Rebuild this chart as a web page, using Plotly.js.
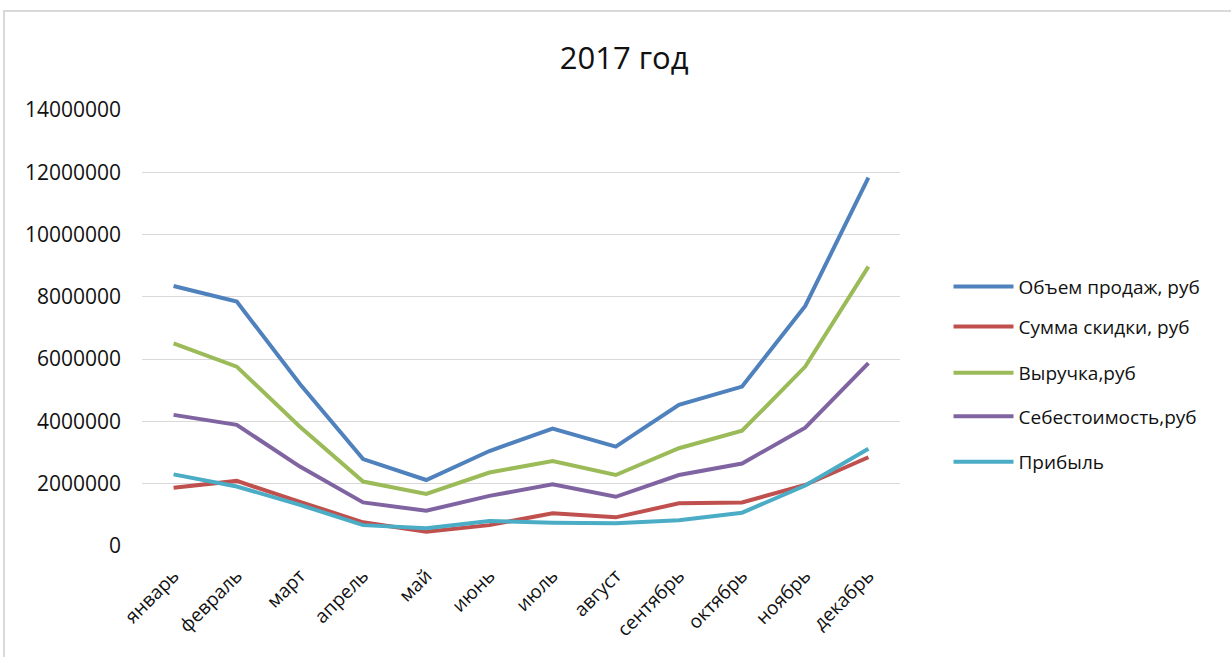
<!DOCTYPE html>
<html>
<head>
<meta charset="utf-8">
<script src="https://cdn.plot.ly/plotly-3.0.1.min.js"></script>
<style>
  html, body { margin: 0; padding: 0; background: #fff; }
  #wrap { position: relative; width: 1231px; height: 657px; overflow: hidden; }
  #frame { position: absolute; left: 3px; top: 10px; width: 1300px; height: 700px;
           border-left: 2px solid #d9d9d9; border-top: 2px solid #d9d9d9; pointer-events: none; }
  #chart { position: absolute; left: 0; top: 0; width: 1231px; height: 657px; }
</style>
</head>
<body>
<div id="wrap">
  <div id="chart"></div>
  <div id="frame"></div>
</div>
<script>
// Monthly figures for 2017, roubles
const months = ['январь', 'февраль', 'март', 'апрель', 'май', 'июнь',
                'июль', 'август', 'сентябрь', 'октябрь', 'ноябрь', 'декабрь'];

const salesVolume = [8350000, 7850000, 5200000, 2790000, 2120000, 3050000,
                     3770000, 3190000, 4530000, 5120000, 7710000, 11830000];
const discountSum = [1870000, 2090000, 1420000, 760000, 460000, 670000,
                     1050000, 920000, 1370000, 1400000, 1960000, 2850000];
const revenue     = [6510000, 5760000, 3830000, 2070000, 1670000, 2360000,
                     2730000, 2280000, 3140000, 3700000, 5760000, 8970000];
const costPrice   = [4210000, 3890000, 2550000, 1400000, 1130000, 1610000,
                     1980000, 1580000, 2280000, 2650000, 3800000, 5870000];
const profit      = [2300000, 1910000, 1320000, 670000, 570000, 800000,
                     750000, 730000, 830000, 1070000, 1940000, 3120000];

const seriesNames = ['Объем продаж, руб', 'Сумма скидки, руб', 'Выручка,руб',
                     'Себестоимость,руб', 'Прибыль'];
const yTicks = [0, 2000000, 4000000, 6000000, 8000000, 10000000, 12000000, 14000000];

const FONT = '"Open Sans", "Noto Sans", sans-serif';
const colors = ['#4f81bd', '#c0504d', '#9bbb59', '#8064a2', '#4bacc6'];
const seriesData = [salesVolume, discountSum, revenue, costPrice, profit];
const legendIds = ['legend', 'legend2', 'legend3', 'legend4', 'legend5'];
const legendY = [0.595, 0.503, 0.397, 0.297, 0.193];

const traces = seriesData.map((vals, i) => ({
  type: 'scatter',
  mode: 'lines',
  x: months,
  y: vals,
  name: seriesNames[i],
  legend: legendIds[i],
  line: { color: colors[i], width: 4 },
  hoverinfo: 'x+y+name'
}));

const layout = {
  width: 1231,
  height: 657,
  margin: { l: 142, r: 331, t: 110, b: 111 },
  paper_bgcolor: 'rgba(0,0,0,0)',
  plot_bgcolor: 'rgba(0,0,0,0)',
  font: { family: FONT, color: '#111' },
  title: {
    text: '2017 год',
    font: { family: FONT, size: 31, color: '#111' },
    x: 0.507, xanchor: 'center',
    y: 0.912, yanchor: 'middle'
  },
  xaxis: {
    type: 'category',
    range: [-0.5, 11.5],
    tickangle: -45,
    tickfont: { family: FONT, size: 19, color: '#111' },
    showgrid: false,
    showline: false,
    zeroline: false,
    ticks: '',
    ticklabelstandoff: 14
  },
  yaxis: {
    range: [0, 14000000],
    tickvals: yTicks,
    ticktext: yTicks.map(v => String(v)),
    tickfont: { family: FONT, size: 21, color: '#111' },
    showgrid: true,
    gridcolor: '#d9d9d9',
    gridwidth: 1,
    zeroline: false,
    showline: false,
    ticks: '',
    ticklabelstandoff: 20
  },
  showlegend: true
};

legendIds.forEach((id, i) => {
  layout[id] = {
    x: 1.064, xanchor: 'left',
    y: legendY[i], yanchor: 'middle',
    bgcolor: 'rgba(0,0,0,0)',
    borderwidth: 0,
    itemwidth: 60,
    font: { family: FONT, size: 19, color: '#111' }
  };
});

Plotly.newPlot('chart', traces, layout, { displayModeBar: false, staticPlot: true });
</script>
</body>
</html>
